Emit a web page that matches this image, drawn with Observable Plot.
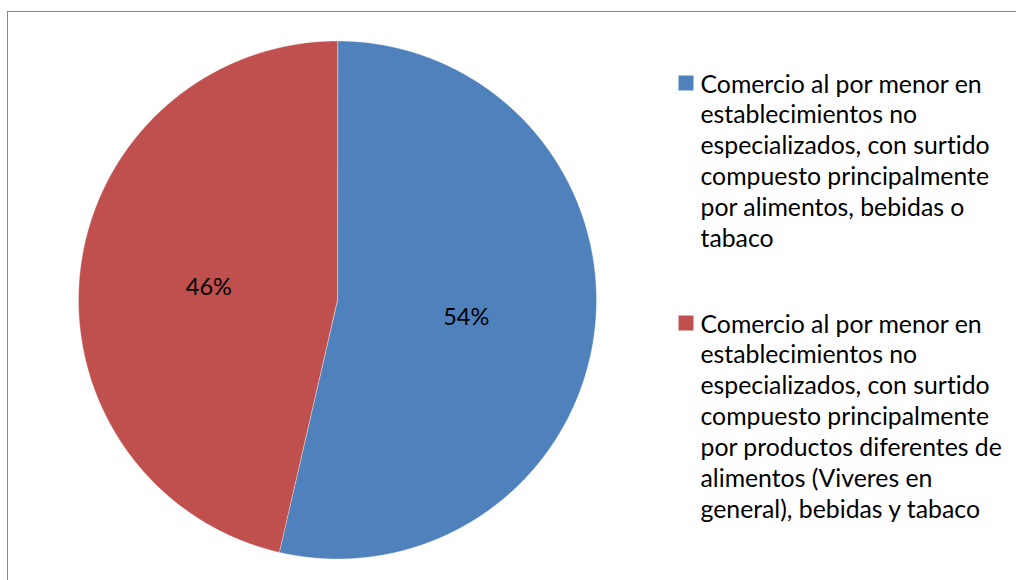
<!DOCTYPE html>
<html><head><meta charset="utf-8">
<script src="https://cdn.jsdelivr.net/npm/d3@7"></script>
<script src="https://cdn.jsdelivr.net/npm/@observablehq/plot@0.6"></script>
<style>
body{margin:0;background:#fff;}
#wrap{position:relative;width:1016px;height:580px;overflow:hidden;background:#fff;}
#frame{position:absolute;left:7px;top:11px;width:1100px;height:700px;border:1.5px solid #868686;}
#wrap svg{position:absolute;left:0;top:0;font-variant-ligatures:none;font-feature-settings:"liga" 0;}
#wrap svg text{font-variant-ligatures:none;font-feature-settings:"liga" 0;}
</style></head><body><div id="wrap"><div id="frame"></div></div>
<script>
const categories = [
  "Comercio al por menor en establecimientos no especializados, con surtido compuesto principalmente por alimentos, bebidas o tabaco",
  "Comercio al por menor en establecimientos no especializados, con surtido compuesto principalmente por productos diferentes de alimentos (Viveres en general), bebidas y tabaco"
];
const legendLines = [
  ["Comercio al por menor en", "establecimientos no", "especializados, con surtido", "compuesto principalmente", "por alimentos, bebidas o", "tabaco"],
  ["Comercio al por menor en", "establecimientos no", "especializados, con surtido", "compuesto principalmente", "por productos diferentes de", "alimentos (Viveres en", "general), bebidas y tabaco"]
];
const values = [53.6, 46.4];
const pctLabels = ["54%", "46%"];
const colors = ["#4F81BD", "#C0504D"];

// layout
const W = 1016, H = 580;
const cx = 337, cy = 299.5, R = 259;
const FONT = "Lato, 'Open Sans', sans-serif";
const FS = 24.8, LH = 31, PFS = 23.5;

const arcs = d3.pie().sort(null).value(d => d)(values);
const slicePts = [];
arcs.forEach((a, i) => {
  slicePts.push({name: categories[i], x: cx, y: cy});
  const n = Math.ceil((a.endAngle - a.startAngle) / 0.004);
  for (let k = 0; k <= n; k++) {
    const t = a.startAngle + (a.endAngle - a.startAngle) * k / n;
    slicePts.push({name: categories[i], x: cx + R * Math.sin(t), y: cy - R * Math.cos(t)});
  }
});
const pctData = arcs.map((a, i) => {
  const m = (a.startAngle + a.endAngle) / 2;
  return {name: categories[i], label: pctLabels[i], x: cx + R / 2 * Math.sin(m), y: cy - R / 2 * Math.cos(m) + 2.5};
});
const legendTop = [75, 315];
// baseline of first line sits 17px below the square's top; Plot puts first baseline at 0.71*lineHeight
const legendData = categories.map((c, i) => ({name: c, text: legendLines[i].join("\n"), sx: 685.5, sy: legendTop[i] + 7.5, tx: 700, ty: legendTop[i] + 17 - 0.71 * LH}));

const chart = Plot.plot({
  width: W, height: H,
  margin: 0,
  x: {domain: [0, W], range: [0, W], axis: null},
  y: {domain: [0, H], range: [0, H], axis: null},
  color: {domain: categories, range: colors},
  style: {fontFamily: FONT, background: "transparent", overflow: "visible"},
  marks: [
    Plot.line(slicePts, {x: "x", y: "y", z: "name", fill: "name", stroke: "#ffffff", strokeWidth: 0.7, strokeOpacity: 0.5, curve: "linear-closed"}),
    Plot.text(pctData, {x: "x", y: "y", text: "label", fill: "#000", fontSize: PFS, textAnchor: "middle"}),
    Plot.dot(legendData, {x: "sx", y: "sy", fill: "name", symbol: "square", r: 15 / Math.sqrt(Math.PI), stroke: null}),
    Plot.text(legendData, {x: "tx", y: "ty", text: "text", fill: "#000", fontSize: FS, textAnchor: "start", lineAnchor: "top", lineHeight: LH / FS})
  ]
});
document.getElementById("wrap").appendChild(chart);
</script>
</body></html>
